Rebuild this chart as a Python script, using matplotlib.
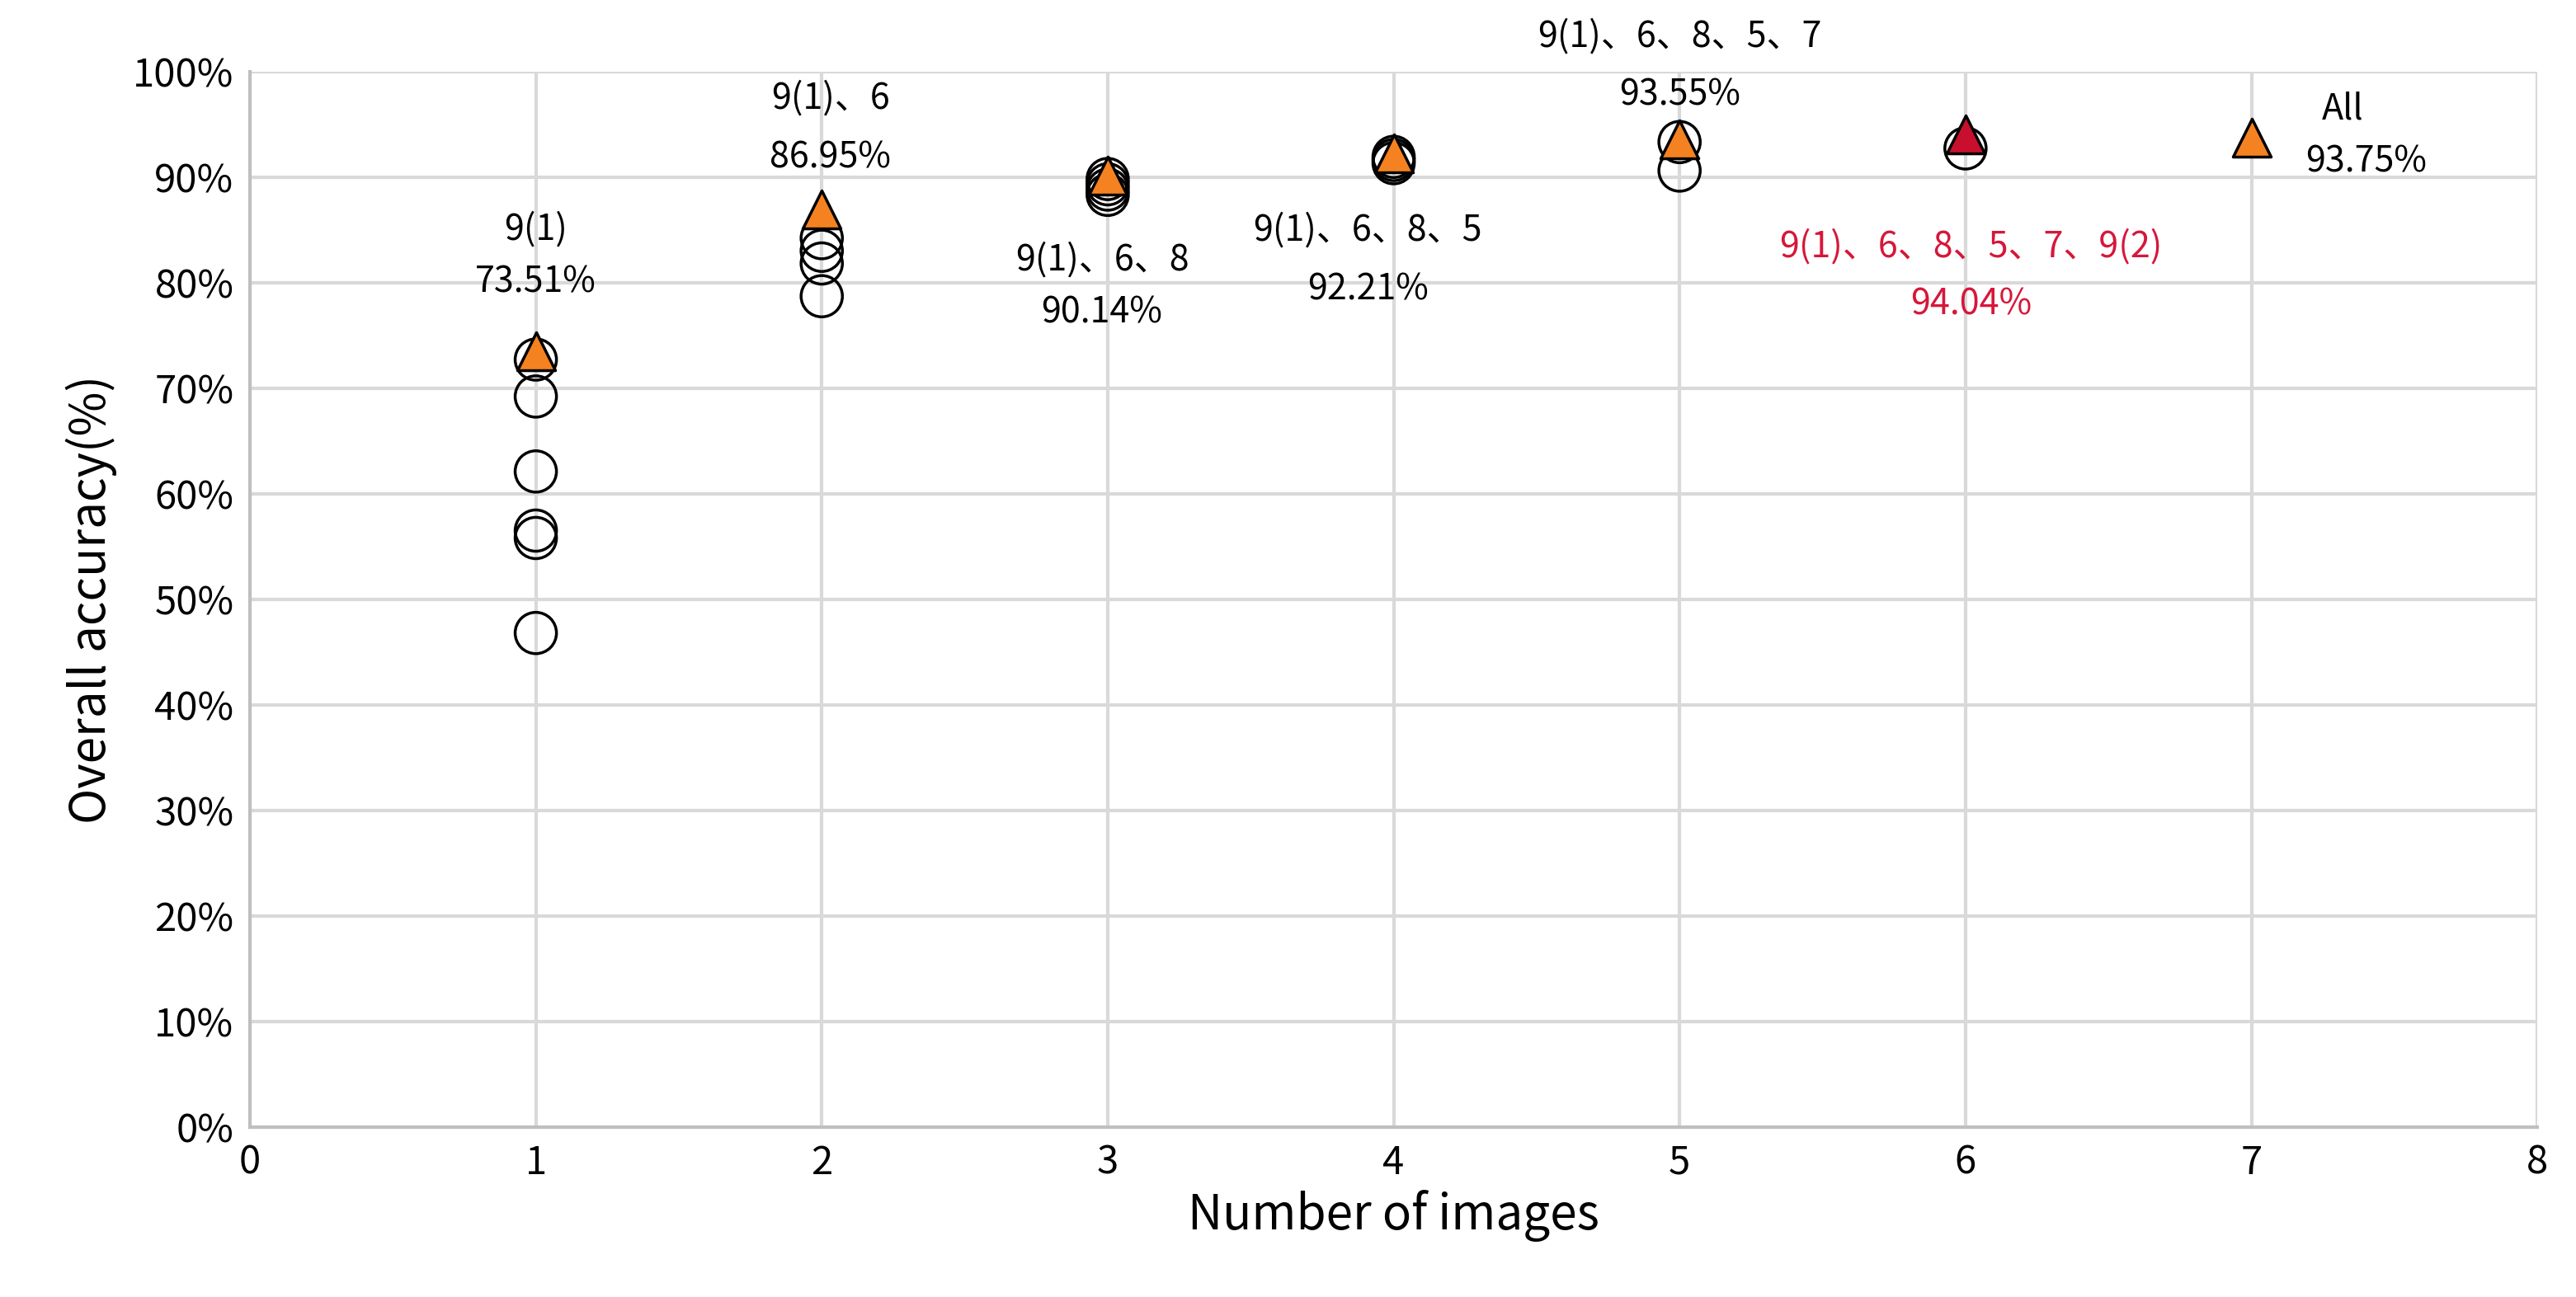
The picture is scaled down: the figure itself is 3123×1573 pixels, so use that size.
import matplotlib
matplotlib.use("Agg")
import matplotlib.pyplot as plt
from matplotlib.ticker import FuncFormatter

plt.rcParams['font.family'] = ['Noto Sans CJK SC', 'DejaVu Sans']

circle_x = [1, 1, 1, 1, 1, 1, 2, 2, 2, 2, 3, 3, 3, 3, 4, 4, 4, 5, 5, 6]
circle_y = [72.7, 69.2, 62.1, 56.5, 55.8, 46.8, 84.2, 83.0, 81.8, 78.7,
            88.3, 88.8, 89.3, 89.8, 91.3, 91.6, 91.9, 93.3, 90.6, 92.7]
best_x = [1, 2, 3, 4, 5, 7]
best_y = [73.51, 86.95, 90.14, 92.21, 93.55, 93.75]
top_x = [6]
top_y = [94.04]
name_labels = ["9(1)", "9(1)、6", "9(1)、6、8", "9(1)、6、8、5", "9(1)、6、8、5、7", "All"]
name_pos = [(1.0, 85.0), (2.03, 97.4), (2.98, 82.1), (3.91, 84.9), (5.0, 103.3), (7.32, 96.4)]
value_labels = ["73.51%", "86.95%", "90.14%", "92.21%", "93.55%", "93.75%"]
value_pos = [(1.0, 80.0), (2.03, 91.8), (2.98, 77.1), (3.91, 79.3), (5.0, 97.7), (7.4, 91.4)]
top_name = "9(1)、6、8、5、7、9(2)"
top_name_pos = (6.02, 83.4)
top_value = "94.04%"
top_value_pos = (6.02, 77.9)

fig = plt.figure(figsize=(31.23, 15.73), dpi=100)
ax = fig.add_axes([0.097, 0.131, 0.888, 0.814])
ax.scatter(circle_x, circle_y, s=1300, facecolors='none', edgecolors='black', linewidths=2.5, zorder=3)
ax.scatter(best_x, best_y, s=1100, marker='^', color='#F58220', edgecolors='black', linewidths=2.5, zorder=4)
ax.scatter(top_x, top_y, s=1100, marker='^', color='#C8102E', edgecolors='black', linewidths=2.5, zorder=4)
for t, (x, y) in zip(name_labels, name_pos):
    ax.text(x, y, t, ha='center', va='center', fontsize=31, clip_on=False)
for t, (x, y) in zip(value_labels, value_pos):
    ax.text(x, y, t, ha='center', va='center', fontsize=31, clip_on=False)
ax.text(*top_name_pos, top_name, ha='center', va='center', fontsize=31, color='#D6173A')
ax.text(*top_value_pos, top_value, ha='center', va='center', fontsize=31, color='#D6173A')

ax.set_xlim(0, 8)
ax.set_ylim(0, 100)
ax.set_xticks(range(0, 9))
ax.set_yticks(range(0, 101, 10))
ax.yaxis.set_major_formatter(FuncFormatter(lambda v, p: f"{int(v)}%"))
ax.grid(True, color='#D9D9D9', linewidth=3)
ax.set_axisbelow(True)
for s in ['top', 'right']:
    ax.spines[s].set_visible(False)
for s in ['left', 'bottom']:
    ax.spines[s].set_color('#BFBFBF')
    ax.spines[s].set_linewidth(3)
ax.tick_params(length=0, labelsize=34, pad=14)
ax.set_xlabel("Number of images", fontsize=42, labelpad=6)
ax.set_ylabel("Overall accuracy(%)", fontsize=42, labelpad=14)
fig.savefig("out.png", dpi=100)
